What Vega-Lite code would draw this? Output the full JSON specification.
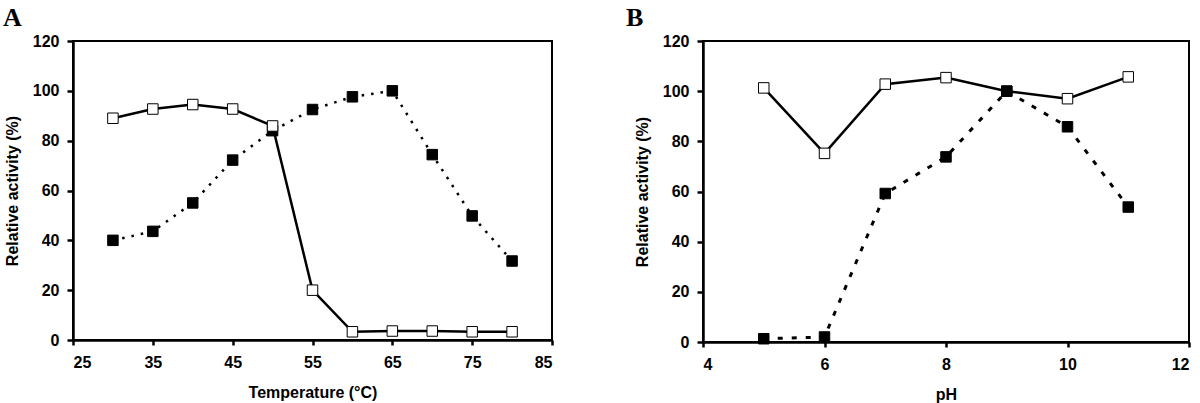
{
  "$schema": "https://vega.github.io/schema/vega-lite/v6.json",
  "background": "white",
  "padding": {"left": 2, "top": 4, "right": 6, "bottom": 0},
  "spacing": 151,
  "bounds": "flush",
  "datasets": {
    "temp": [
      {"t": 30, "series": "Stability", "v": 89.0},
      {"t": 35, "series": "Stability", "v": 92.7},
      {"t": 40, "series": "Stability", "v": 94.5},
      {"t": 45, "series": "Stability", "v": 92.7},
      {"t": 50, "series": "Stability", "v": 85.9},
      {"t": 55, "series": "Stability", "v": 20.0},
      {"t": 60, "series": "Stability", "v": 3.3},
      {"t": 65, "series": "Stability", "v": 3.6},
      {"t": 70, "series": "Stability", "v": 3.6},
      {"t": 75, "series": "Stability", "v": 3.3},
      {"t": 80, "series": "Stability", "v": 3.3},
      {"t": 30, "series": "Activity", "v": 40.0},
      {"t": 35, "series": "Activity", "v": 43.6},
      {"t": 40, "series": "Activity", "v": 55.0},
      {"t": 45, "series": "Activity", "v": 72.2},
      {"t": 50, "series": "Activity", "v": 84.0},
      {"t": 55, "series": "Activity", "v": 92.5},
      {"t": 60, "series": "Activity", "v": 97.6},
      {"t": 65, "series": "Activity", "v": 100.0},
      {"t": 70, "series": "Activity", "v": 74.4},
      {"t": 75, "series": "Activity", "v": 49.8},
      {"t": 80, "series": "Activity", "v": 31.7}
    ],
    "ph": [
      {"p": 5, "series": "Stability", "v": 101.3},
      {"p": 6, "series": "Stability", "v": 75.2},
      {"p": 7, "series": "Stability", "v": 102.8},
      {"p": 8, "series": "Stability", "v": 105.4},
      {"p": 9, "series": "Stability", "v": 100.0},
      {"p": 10, "series": "Stability", "v": 97.0},
      {"p": 11, "series": "Stability", "v": 105.7},
      {"p": 5, "series": "Activity", "v": 1.3},
      {"p": 6, "series": "Activity", "v": 2.0},
      {"p": 7, "series": "Activity", "v": 59.2},
      {"p": 8, "series": "Activity", "v": 73.8},
      {"p": 9, "series": "Activity", "v": 100.0},
      {"p": 10, "series": "Activity", "v": 85.8},
      {"p": 11, "series": "Activity", "v": 53.8}
    ]
  },
  "config": {
    "view": {"stroke": "black", "strokeWidth": 2},
    "axis": {
      "labelFont": "Liberation Sans",
      "labelFontWeight": "bold",
      "labelFontSize": 16,
      "labelColor": "black",
      "titleFont": "Liberation Sans",
      "titleFontWeight": "bold",
      "titleFontSize": 16,
      "titleColor": "black",
      "domainColor": "black",
      "domainWidth": 2.5,
      "tickColor": "black",
      "tickWidth": 2.5,
      "grid": false
    },
    "title": {
      "font": "Liberation Serif",
      "fontWeight": "bold",
      "fontSize": 26,
      "color": "black",
      "anchor": "start",
      "frame": "group",
      "baseline": "alphabetic"
    }
  },
  "hconcat": [
    {
      "width": 479,
      "height": 299,
      "title": {"text": "A", "dx": -70, "offset": 2},
      "data": {"name": "temp"},
      "encoding": {
        "x": {"field": "t", "type": "quantitative",
              "scale": {"domain": [25, 85], "nice": false, "zero": false},
              "axis": {"values": [25, 35, 45, 55, 65, 75, 85], "title": "Temperature (°C)", "tickSize": 5, "labelPadding": 9, "titlePadding": 14}},
        "y": {"field": "v", "type": "quantitative",
              "scale": {"domain": [0, 120], "nice": false},
              "axis": {"values": [0, 20, 40, 60, 80, 100, 120], "title": "Relative activity (%)", "tickSize": 6, "labelPadding": 8, "titlePadding": 12}}
      },
      "layer": [
        {"transform": [{"filter": "datum.series === 'Activity'"}],
         "mark": {"type": "line", "color": "black", "strokeWidth": 2.5, "strokeDash": [2.5, 7]}},
        {"transform": [{"filter": "datum.series === 'Stability'"}],
         "mark": {"type": "line", "color": "black", "strokeWidth": 2.5}},
        {"transform": [{"filter": "datum.series === 'Activity'"}],
         "mark": {"type": "point", "shape": "square", "filled": true, "fill": "black", "stroke": "black", "strokeWidth": 1, "size": 110, "opacity": 1}},
        {"transform": [{"filter": "datum.series === 'Stability'"}],
         "mark": {"type": "point", "shape": "square", "filled": true, "fill": "white", "stroke": "black", "strokeWidth": 1, "size": 110, "opacity": 1}}
      ]
    },
    {
      "width": 486,
      "height": 301,
      "title": {"text": "B", "dx": -77, "offset": 2},
      "data": {"name": "ph"},
      "encoding": {
        "x": {"field": "p", "type": "quantitative",
              "scale": {"domain": [4, 12], "nice": false, "zero": false},
              "axis": {"values": [4, 6, 8, 10, 12], "title": "pH", "tickSize": 5, "labelPadding": 9, "titlePadding": 14}},
        "y": {"field": "v", "type": "quantitative",
              "scale": {"domain": [0, 120], "nice": false},
              "axis": {"values": [0, 20, 40, 60, 80, 100, 120], "title": "Relative activity (%)", "tickSize": 6, "labelPadding": 8, "titlePadding": 12}}
      },
      "layer": [
        {"transform": [{"filter": "datum.series === 'Stability'"}],
         "mark": {"type": "line", "color": "black", "strokeWidth": 2.5}},
        {"transform": [{"filter": "datum.series === 'Activity'"}],
         "mark": {"type": "line", "color": "black", "strokeWidth": 3, "strokeDash": [5, 9]}},
        {"transform": [{"filter": "datum.series === 'Stability'"}],
         "mark": {"type": "point", "shape": "square", "filled": true, "fill": "white", "stroke": "black", "strokeWidth": 1, "size": 110, "opacity": 1}},
        {"transform": [{"filter": "datum.series === 'Activity'"}],
         "mark": {"type": "point", "shape": "square", "filled": true, "fill": "black", "stroke": "black", "strokeWidth": 1, "size": 110, "opacity": 1}}
      ]
    }
  ]
}
